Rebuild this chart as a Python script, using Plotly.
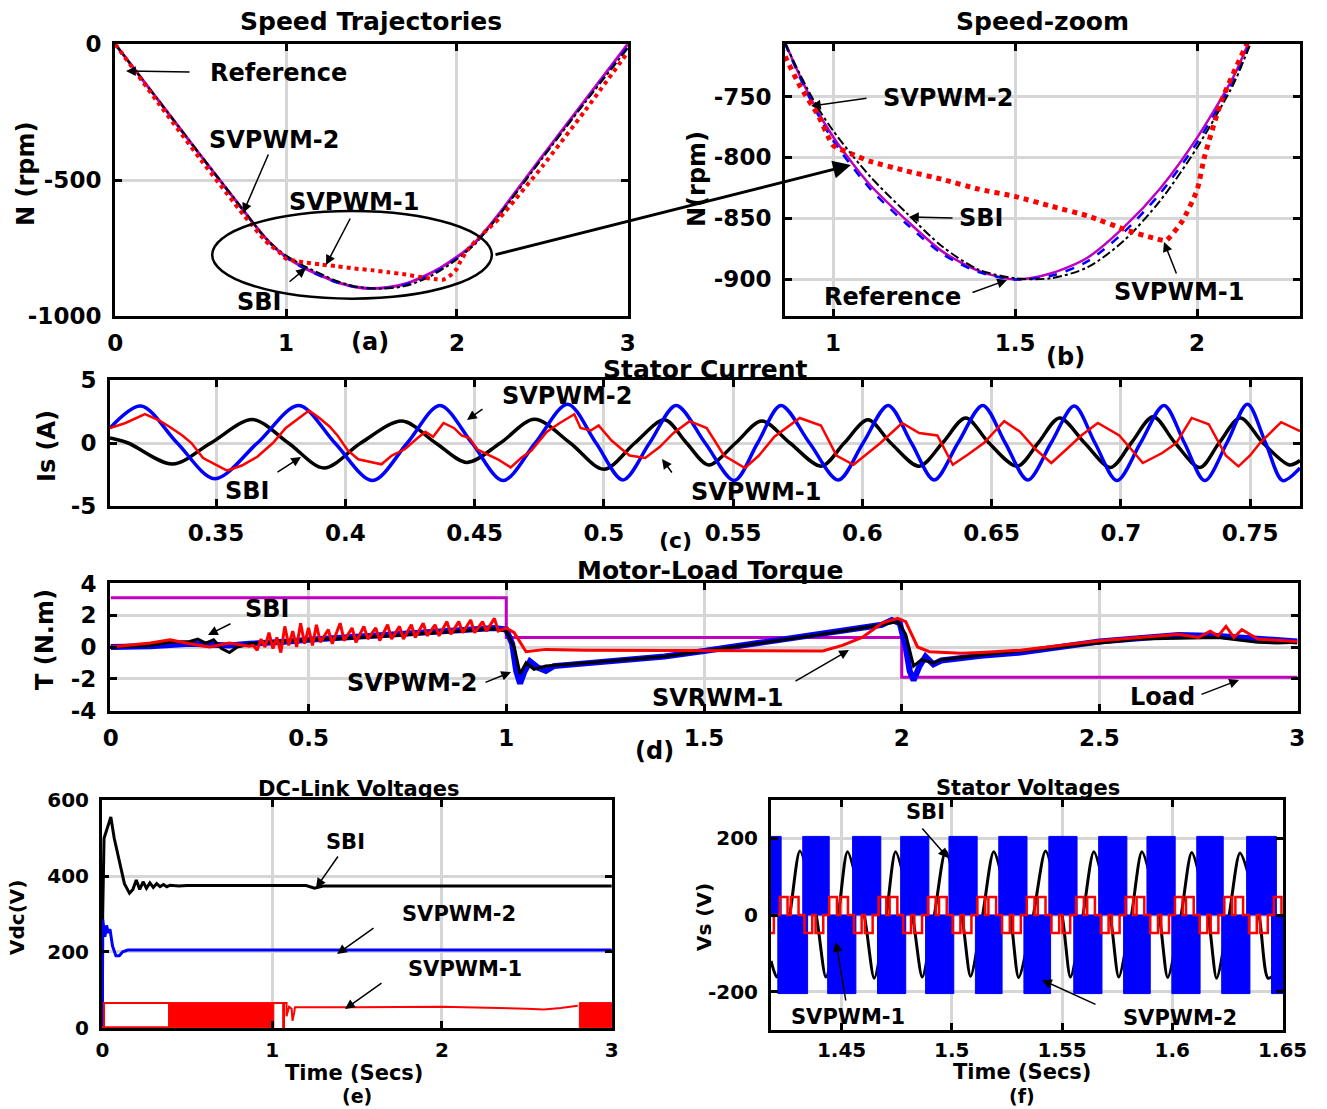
import plotly.graph_objects as go

W, H = 1327, 1109
FONT = "DejaVu Sans"
MAG = "#C000C0"

# ---------------- (a)/(b) speed data ----------------
ref_t = [0, 0.25, 0.5, 0.75, 0.87, 0.95, 1.0, 1.1, 1.2, 1.3, 1.4, 1.5, 1.6, 1.7, 1.8, 1.9, 2.0, 2.1, 2.14, 2.25, 2.5, 2.75, 3.0]
ref_n = [0, -205, -410, -612, -707, -758, -783, -822, -851, -877, -893, -900, -895, -882, -857, -825, -784, -734, -707, -622, -413, -207, 0]
sv2_t = [0, 0.25, 0.5, 0.75, 0.87, 0.95, 1.0, 1.1, 1.2, 1.3, 1.4, 1.5, 1.6, 1.7, 1.8, 1.9, 2.0, 2.1, 2.14, 2.25, 2.5, 2.75, 3.0]
sv2_n = [0, -206, -412, -614, -708, -760, -786, -825, -854, -879, -894, -900, -897, -885, -861, -829, -788, -737, -711, -626, -418, -212, -8]
sbi_t = [0, 0.25, 0.5, 0.75, 0.87, 0.95, 1.0, 1.1, 1.2, 1.3, 1.4, 1.5, 1.6, 1.7, 1.8, 1.9, 2.0, 2.1, 2.14, 2.25, 2.5, 2.75, 3.0]
sbi_n = [0, -204, -409, -611, -707, -755, -778, -815, -845, -873, -892, -899, -899, -890, -868, -835, -792, -740, -712, -628, -420, -215, -15]
sv1_t = [0, 0.25, 0.5, 0.75, 0.87, 0.91, 0.96, 1.0, 1.05, 1.1, 1.2, 1.3, 1.4, 1.5, 1.6, 1.7, 1.81, 1.88, 1.915, 1.96, 2.0, 2.021, 2.068, 2.137, 2.25, 2.5, 2.75, 3.0]
sv1_n = [0, -215, -425, -628, -718, -742, -766, -790, -797, -803, -811, -818, -826, -832, -840, -848, -860, -866, -868, -852, -827, -799, -753, -707, -640, -450, -245, -30]

# ---------------- (c) stator current ----------------
is_sv2_t = [0.309, 0.321, 0.335, 0.3495, 0.366, 0.382, 0.396, 0.4105, 0.424, 0.4366, 0.449, 0.461, 0.4735, 0.486, 0.497, 0.5074,
            0.5177, 0.528, 0.5392, 0.5505, 0.5595, 0.5685, 0.5796, 0.5907, 0.6003, 0.610, 0.619, 0.6278, 0.637, 0.6466, 0.6553,
            0.664, 0.673, 0.682, 0.690, 0.6985, 0.7076, 0.7167, 0.7246, 0.7325, 0.741, 0.749, 0.756, 0.7626, 0.7693]
is_sv2_v = [1.2, 2.95, 0, -2.85, 0, 3.0, 0, -3.0, 0, 3.0, 0, -3.0, 0, 3.1, 0, -2.95,
            0, 3.0, 0, -3.0, 0, 3.0, 0, -2.95, 0, 3.0, 0, -2.95, 0, 3.0, 0,
            -2.95, 0, 2.95, 0, -3.0, 0, 3.0, 0, -3.0, 0, 3.1, 0, -3.0, -2.0]
is_sbi_t = [0.309, 0.316, 0.3332, 0.348, 0.3641, 0.378, 0.3918, 0.406, 0.422, 0.435, 0.4471, 0.46, 0.4732, 0.487, 0.5, 0.512,
            0.5235, 0.532, 0.5406, 0.551, 0.5611, 0.572, 0.5842, 0.593, 0.6022, 0.611, 0.622, 0.631, 0.640, 0.649, 0.6599,
            0.668, 0.6763, 0.686, 0.696, 0.704, 0.7125, 0.721, 0.7306, 0.738, 0.7462, 0.755, 0.7652, 0.7693]
is_sbi_v = [0.4, 0, -1.68, 0, 1.87, 0, -2.0, 0, 1.75, 0, -1.55, 0, 1.9, 0, -2.1, 0,
            1.85, 0, -1.75, 0, 1.75, 0, -1.85, 0, 1.85, 0, -1.85, 0, 2.0, 0, -1.85,
            0, 2.0, 0, -1.95, 0, 2.1, 0, -1.95, 0, 2.0, 0, -1.75, -1.4]
is_sv1_t = [0.309, 0.315, 0.3225, 0.328, 0.332, 0.337, 0.3405, 0.345, 0.3543, 0.36, 0.366, 0.372, 0.377, 0.381, 0.386, 0.39,
            0.394, 0.397, 0.401, 0.405, 0.409, 0.414, 0.418, 0.423, 0.428, 0.431, 0.434, 0.438, 0.442, 0.445, 0.448, 0.451,
            0.455, 0.459, 0.464, 0.468, 0.472, 0.478, 0.483, 0.4886, 0.491, 0.495, 0.498, 0.503, 0.507, 0.51, 0.516, 0.5217,
            0.527, 0.5332, 0.5398, 0.5465, 0.5546, 0.56, 0.566, 0.5758, 0.584, 0.59, 0.5966, 0.607, 0.6154, 0.622, 0.629,
            0.635, 0.641, 0.647, 0.6549, 0.661, 0.667, 0.6731, 0.679, 0.6847, 0.6911, 0.6994, 0.704, 0.7085, 0.716, 0.7215,
            0.7274, 0.734, 0.7406, 0.7455, 0.75, 0.7538, 0.762, 0.7693]
is_sv1_v = [1.2, 1.6, 2.3, 1.8, 1.3, 0.6, 0.0, -1.2, -2.2, -1.8, -1.1, 0.0, 1.2, 1.8, 2.6, 2.0,
            1.3, 0.6, -0.6, -1.3, -1.5, -1.7, -1.0, -0.5, 0.4, 0.9, 0.5, 1.6, 1.2, 0.6, 0.4, -0.5,
            -0.9, -1.3, -1.95, -1.2, -0.6, 0.9, 1.6, 2.3, 1.2, 1.0, 1.4, 0.2, -0.5, -1.0, -1.2, -0.3,
            0.8, 1.74, 1.2, -1.0, -2.0, -1.0, 0.5, 2.0, 1.4, -1.0, -1.74, 0.0, 1.6, 0.8, 0.6,
            -1.74, -0.9, 0.0, 1.74, 0.9, -0.5, -1.6, -0.5, 0.6, 1.6, 0.6, -0.5, -1.6, -0.8, 0.0,
            2.0, 1.5, -1.0, -1.87, -1.0, 0.0, 1.66, 0.94]

# ---------------- (d) torque ----------------
load_t = [0, 1, 1, 2, 2, 3]
load_v = [3.1, 3.1, 0.6, 0.6, -1.9, -1.9]
tq_sv2_t = [0, 0.1, 0.2, 0.25, 0.3, 0.35, 0.4, 0.45, 0.5, 0.6, 0.7, 0.8, 0.9, 0.97, 1.0, 1.015, 1.025, 1.035, 1.045, 1.06,
            1.08, 1.1, 1.12, 1.2, 1.3, 1.4, 1.5, 1.6, 1.7, 1.8, 1.9, 1.95, 1.975, 1.995, 2.01, 2.02, 2.03, 2.045, 2.06,
            2.08, 2.1, 2.2, 2.3, 2.4, 2.5, 2.6, 2.7, 2.8, 2.9, 3.0]
tq_sv2_v = [0, 0.05, 0.2, 0.15, 0.1, 0.2, 0.25, 0.35, 0.45, 0.6, 0.75, 0.9, 1.05, 1.2, 1.1, 0.2, -1.5, -2.3, -1.6, -0.9,
            -1.3, -1.5, -1.2, -1.05, -0.85, -0.6, -0.25, 0.1, 0.45, 0.8, 1.15, 1.4, 1.7, 1.5, 0.0, -1.5, -2.1, -1.2, -0.6,
            -1.1, -0.85, -0.55, -0.35, 0.0, 0.35, 0.55, 0.75, 0.7, 0.5, 0.35]
tq_sbi_t = [0, 0.1, 0.15, 0.2, 0.22, 0.24, 0.26, 0.28, 0.3, 0.32, 0.35, 0.4, 0.5, 0.6, 0.7, 0.8, 0.9, 0.97, 1.0, 1.02, 1.035,
            1.05, 1.07, 1.1, 1.2, 1.4, 1.6, 1.8, 1.95, 1.99, 2.01, 2.03, 2.05, 2.08, 2.1, 2.2, 2.4, 2.6, 2.8, 2.9, 2.95, 3.0]
tq_sbi_v = [0, 0.1, 0.3, 0.35, 0.5, 0.25, 0.45, -0.1, -0.35, 0.0, 0.2, 0.3, 0.45, 0.55, 0.7, 0.85, 1.0, 1.15, 1.0, 0.0, -1.7,
            -1.0, -1.4, -1.2, -1.0, -0.6, 0.1, 0.8, 1.4, 1.6, 0.8, -1.2, -0.8, -1.0, -0.8, -0.5, 0.0, 0.5, 0.6, 0.3, 0.25, 0.3]
tq_sv1_t = [0, 0.1, 0.15, 0.2, 0.25, 0.3, 0.35, 0.36, 0.37, 0.38, 0.39, 0.40, 0.41, 0.42, 0.43, 0.44, 0.45, 0.46, 0.47, 0.48,
            0.49, 0.50, 0.51, 0.52, 0.53, 0.55, 0.56, 0.58, 0.59, 0.61, 0.62, 0.64, 0.65, 0.67, 0.68, 0.70, 0.71, 0.73, 0.74,
            0.76, 0.77, 0.79, 0.80, 0.82, 0.83, 0.85, 0.86, 0.88, 0.89, 0.91, 0.92, 0.94, 0.95, 0.97, 0.98, 1.0, 1.02, 1.05,
            1.1, 1.2, 1.4, 1.6, 1.8, 1.85, 1.9, 1.95, 1.99, 2.01, 2.04, 2.07, 2.15, 2.2, 2.3, 2.4, 2.5, 2.6, 2.7, 2.75, 2.78,
            2.8, 2.82, 2.84, 2.86, 2.9, 3.0]
tq_sv1_v = [0, 0.25, 0.45, 0.2, 0.0, 0.25, 0.05, 0.1, -0.2, 0.5, 0.0, 0.9, -0.1, 0.6, -0.35, 1.3, 0.1, 1.0, 0.0, 1.5,
            0.2, 1.2, 0.1, 1.4, 0.3, 1.1, 0.2, 1.5, 0.4, 1.2, 0.3, 1.3, 0.5, 1.2, 0.4, 1.4, 0.5, 1.3, 0.5,
            1.4, 0.6, 1.5, 0.7, 1.4, 0.7, 1.6, 0.8, 1.6, 0.9, 1.7, 0.9, 1.6, 1.0, 1.8, 1.0, 1.2, 0.9, -0.3,
            -0.15, -0.2, -0.22, -0.22, -0.25, 0.1, 0.6, 1.5, 1.8, 1.6, 0.0, -0.3, -0.4, -0.35, -0.2, 0.1, 0.4, 0.6, 0.8, 0.6, 1.0,
            0.7, 1.3, 0.6, 1.1, 0.5, 0.35]

# ---------------- (e) DC-link ----------------
dc_sbi_t = [0, 0.002, 0.01, 0.03, 0.05, 0.07, 0.1, 0.13, 0.16, 0.18, 0.2, 0.22, 0.24, 0.26, 0.28, 0.3, 0.32, 0.34, 0.36, 0.38, 0.4, 0.45, 0.5, 1.2, 1.25, 1.3, 3.0]
dc_sbi_v = [0, 300, 500, 530, 556, 500, 440, 380, 355, 365, 390, 365, 385, 368, 382, 370, 380, 372, 378, 372, 376, 374, 375, 375, 368, 374, 374]
dc_sv2_t = [0, 0.002, 0.015, 0.025, 0.035, 0.045, 0.06, 0.08, 0.1, 0.12, 0.15, 3.0]
dc_sv2_v = [0, 285, 240, 270, 250, 260, 215, 190, 190, 200, 205, 205]
dc_sv1_t = [0, 0.01, 0.01, 0.40, None, 0.0, 0.40, None, 1.01, 1.065, 1.065, 1.07, 1.07, 1.085, 1.085, 1.1, 1.115, 1.12, 1.13, 1.135, 1.5, 2.0, 2.5, 2.6, 2.7, 2.8]
dc_sv1_v = [0, 0, 65, 65, None, 1, 1, None, 65, 65, 0, 0, 65, 65, 30, 55, 50, 18, 40, 54, 54, 55, 50, 48, 52, 58]
dc_sv1_band_start = [0.39, 2.81]
dc_sv1_band_end = [1.01, 3.0]
dc_sv1_band_top = 66

# ---------------- (f) stator voltages ----------------
vs_sbi_t = [1.418, 1.4206, 1.4265, 1.4311, 1.4385, 1.4429, 1.4485, 1.4527, 1.4603, 1.4648, 1.4703, 1.4745, 1.4821, 1.4866,
            1.4921, 1.4972, 1.5045, 1.5085, 1.5140, 1.5190, 1.5265, 1.5303, 1.5370, 1.5425, 1.5500, 1.5538, 1.5595, 1.5644,
            1.5718, 1.5757, 1.5815, 1.5862, 1.5940, 1.5979, 1.6040, 1.6088, 1.6162, 1.6201, 1.6258, 1.6307, 1.6393, 1.6435, 1.6502]
vs_sbi_v = [-120, -162, 0, 167, 0, -162, 0, 165, 0, -165, 0, 165, 0, -162,
            0, 167, 0, -160, 0, 165, 0, -163, 0, 167, 0, -162, 0, 165,
            0, -162, 0, 165, 0, -163, 0, 163, 0, -165, 0, 162, 0, -165, -130]
vs_sv2_pos_start = [1.4165, 1.4324, 1.4550, 1.4768, 1.4987, 1.5213, 1.5440, 1.5666, 1.5885, 1.6111, 1.6337]
vs_sv2_pos_end = [1.4226, 1.4444, 1.4678, 1.4896, 1.5115, 1.5341, 1.5568, 1.5794, 1.6013, 1.6231, 1.6472]
vs_sv2_neg_start = [1.4211, 1.4437, 1.4663, 1.4881, 1.5107, 1.5327, 1.5553, 1.5779, 1.5998, 1.6224, 1.6450]
vs_sv2_neg_end = [1.4346, 1.4565, 1.4791, 1.5009, 1.5228, 1.5448, 1.5681, 1.5900, 1.6126, 1.6352, 1.6502]
vs_sv2_level = 205
vs_sv1_cycle_start = [1.3996, 1.4220, 1.4444, 1.4668, 1.4892, 1.5116, 1.5340, 1.5564, 1.5788, 1.6012, 1.6236, 1.6460]
vs_sv1_phase = [0.0, 0.0035, 0.0050, 0.0085, 0.0112, 0.0147, 0.0162, 0.0197]
vs_sv1_level = [47, 0, 47, 0, -47, 0, -47, 0]

# ---------------- helpers ----------------
def fx(p):
    return p / W

def fy(p):
    return 1 - p / H

fig = go.Figure()

def add(n, **kw):
    ax = "" if n == 1 else str(n)
    fig.add_trace(go.Scatter(xaxis="x" + ax, yaxis="y" + ax, mode="lines", showlegend=False,
                             hoverinfo="skip", **kw))

# (a)
add(1, x=ref_t, y=ref_n, line=dict(color=MAG, width=3, shape="spline", smoothing=0.8))
add(1, x=sv2_t, y=sv2_n, line=dict(color="blue", width=2, dash="dash", shape="spline", smoothing=0.8))
add(1, x=sbi_t, y=sbi_n, line=dict(color="black", width=2, dash="dashdot", shape="spline", smoothing=0.8))
add(1, x=sv1_t, y=sv1_n, line=dict(color="red", width=4, dash="dot", shape="spline", smoothing=0.5))
# (b)
add(2, x=ref_t, y=ref_n, line=dict(color=MAG, width=2.5, shape="spline", smoothing=0.8))
add(2, x=sv2_t, y=sv2_n, line=dict(color="blue", width=2.5, dash="dash", shape="spline", smoothing=0.8))
add(2, x=sbi_t, y=sbi_n, line=dict(color="black", width=2, dash="dashdot", shape="spline", smoothing=0.8))
add(2, x=sv1_t, y=sv1_n, line=dict(color="red", width=5, dash="dot", shape="spline", smoothing=0.5))
# (c)
add(3, x=is_sbi_t, y=is_sbi_v, line=dict(color="black", width=3.5, shape="spline", smoothing=0.9))
add(3, x=is_sv2_t, y=is_sv2_v, line=dict(color="blue", width=3.5, shape="spline", smoothing=0.9))
add(3, x=is_sv1_t, y=is_sv1_v, line=dict(color="red", width=2.5))
# (d)
add(4, x=load_t, y=load_v, line=dict(color=MAG, width=3))
add(4, x=tq_sv2_t, y=tq_sv2_v, line=dict(color="blue", width=6))
add(4, x=tq_sbi_t, y=tq_sbi_v, line=dict(color="black", width=3))
add(4, x=tq_sv1_t, y=tq_sv1_v, line=dict(color="red", width=3))
# (e)
add(5, x=dc_sbi_t, y=dc_sbi_v, line=dict(color="black", width=3))
add(5, x=dc_sv2_t, y=dc_sv2_v, line=dict(color="blue", width=3))
bx, by = [], []
for s, e in zip(dc_sv1_band_start, dc_sv1_band_end):
    bx += [s, e, e, s, s, None]
    by += [0, 0, dc_sv1_band_top, dc_sv1_band_top, 0, None]
add(5, x=bx, y=by, fill="toself", fillcolor="red", line=dict(color="red", width=1))
add(5, x=dc_sv1_t, y=dc_sv1_v, line=dict(color="red", width=2))
# (f)
add(6, x=vs_sbi_t, y=vs_sbi_v, line=dict(color="black", width=3, shape="spline", smoothing=0.7))
px_, py_ = [], []
for s, e in zip(vs_sv2_pos_start, vs_sv2_pos_end):
    px_ += [s, e, e, s, s, None]
    py_ += [0, 0, vs_sv2_level, vs_sv2_level, 0, None]
for s, e in zip(vs_sv2_neg_start, vs_sv2_neg_end):
    px_ += [s, e, e, s, s, None]
    py_ += [0, 0, -vs_sv2_level, -vs_sv2_level, 0, None]
add(6, x=px_, y=py_, fill="toself", fillcolor="blue", line=dict(color="blue", width=1))
rx, ry = [], []
for c in vs_sv1_cycle_start:
    for ph, lv in zip(vs_sv1_phase, vs_sv1_level):
        rx.append(c + ph)
        ry.append(lv)
add(6, x=rx, y=ry, line=dict(color="red", width=2.5, shape="hv"))

# ---------------- axes ----------------
def axis(dom, rng, vals, texts, fs, standoff=6):
    return dict(domain=dom, range=rng, tickvals=vals, ticktext=texts, showgrid=True, gridcolor="#d6d6d6",
                gridwidth=2.5, zeroline=False, showline=True, linecolor="black", linewidth=3, mirror="ticks",
                ticks="inside", ticklen=7, tickwidth=3, tickcolor="black", ticklabelstandoff=standoff,
                automargin=False,
                tickfont=dict(family=FONT, size=fs, color="black", weight="bold"), fixedrange=True)

def xd(a, b):
    return [fx(a), fx(b)]

def yd(top, bot):
    return [fy(bot), fy(top)]

TK = 23
TK2 = 20
lay = {}
lay["xaxis"] = axis(xd(115, 628), [-0.002, 3.002], [0, 1, 2, 3], ["0", "1", "2", "3"], TK, 4)
lay["yaxis"] = axis(yd(44, 316), [-1001, 1], [-1000, -500, 0], ["-1000", "-500", "0"], TK)
lay["xaxis2"] = axis(xd(785, 1300), [0.868, 2.283], [1, 1.5, 2], ["1", "1.5", "2"], TK, 4)
lay["yaxis2"] = axis(yd(44, 316), [-930, -707], [-900, -850, -800, -750], ["-900", "-850", "-800", "-750"], TK)
cx = [0.35, 0.4, 0.45, 0.5, 0.55, 0.6, 0.65, 0.7, 0.75]
lay["xaxis3"] = axis(xd(110, 1300), [0.309, 0.7693], cx, ["0.35", "0.4", "0.45", "0.5", "0.55", "0.6", "0.65", "0.7", "0.75"], TK, 4)
lay["yaxis3"] = axis(yd(380, 506), [-5.03, 5.03], [-5, 0, 5], ["-5", "0", "5"], TK)
dx = [0, 0.5, 1, 1.5, 2, 2.5, 3]
lay["xaxis4"] = axis(xd(110, 1298), [-0.002, 3.002], dx, ["0", "0.5", "1", "1.5", "2", "2.5", "3"], TK, 4)
lay["yaxis4"] = axis(yd(583, 711), [-4.03, 4.03], [-4, -2, 0, 2, 4], ["-4", "-2", "0", "2", "4"], TK)
lay["xaxis5"] = axis(xd(102, 612), [-0.002, 3.002], [0, 1, 2, 3], ["0", "1", "2", "3"], TK2, 2)
lay["yaxis5"] = axis(yd(800, 1028), [-1, 601], [0, 200, 400, 600], ["0", "200", "400", "600"], TK2)
fxv = [1.45, 1.5, 1.55, 1.6, 1.65]
lay["xaxis6"] = axis(xd(771, 1283), [1.418, 1.6502], fxv, ["1.45", "1.5", "1.55", "1.6", "1.65"], TK2, 0)
lay["yaxis6"] = axis(yd(800, 1030), [-300, 300], [-200, 0, 200], ["-200", "0", "200"], TK2)
for i in range(1, 7):
    s = "" if i == 1 else str(i)
    lay["xaxis" + s]["anchor"] = "y" + s
    lay["yaxis" + s]["anchor"] = "x" + s

# ---------------- annotations ----------------
ann = []

def text(t, x, y, size=22, angle=0):
    ann.append(dict(text=t, x=fx(x), y=fy(y), xref="paper", yref="paper", showarrow=False,
                    xanchor="center", yanchor="middle", textangle=angle, borderpad=0,
                    font=dict(family=FONT, size=size, color="black", weight="bold")))

def arrow(tail, head, width=1.5, size=1.3):
    ann.append(dict(text="", x=fx(head[0]), y=fy(head[1]), xref="paper", yref="paper", showarrow=True,
                    ax=tail[0] - head[0], ay=tail[1] - head[1], axref="pixel", ayref="pixel",
                    arrowhead=2, arrowsize=size, arrowwidth=width, arrowcolor="black",
                    standoff=0, startstandoff=0))

TT = 25
TL = 24
TS = 21
# titles
text("Speed Trajectories", 371, 22, TT)
text("Speed-zoom", 1042, 22, TT)
text("Stator Current", 705, 369, TT)
text("Motor-Load Torque", 710, 570, TT)
text("DC-Link Voltages", 359, 789, 21)
text("Stator Voltages", 1028, 788, 21)
# subplot letters
text("(a)", 370, 342, TL)
text("(b)", 1065, 357, TL)
text("(c)", 676, 541, 22)
text("(d)", 654, 751, TL)
text("(e)", 357, 1096, 19)
text("(f)", 1022, 1096, 19)
# axis titles
text("Time (Secs)", 354, 1073, 21)
text("Time (Secs)", 1022, 1072, 21)
text("N (rpm)", 26, 174, 24, -90)
text("N(rpm)", 697, 179, 24, -90)
text("Is (A)", 47, 446, 24, -90)
text("T (N.m)", 45, 640, 24, -90)
text("Vdc(V)", 17, 918, 20, -90)
text("Vs (V)", 704, 917, 20, -90)
# curve labels
text("Reference", 278, 73, TL); arrow((191, 72), (126, 71))
text("SVPWM-2", 274, 140, TL); arrow((269, 153), (243, 213))
text("SVPWM-1", 354, 202, TL); arrow((351, 217), (326, 265))
text("SBI", 259, 302, TL); arrow((288, 283), (306, 268))
arrow((494, 255), (851, 165), width=3, size=1.2)
text("SVPWM-2", 948, 98, TL); arrow((868, 98), (811, 106))
text("SBI", 981, 218, TL); arrow((954, 218), (909, 217))
text("Reference", 892, 297, TL); arrow((971, 293), (1007, 280))
text("SVPWM-1", 1179, 292, TL); arrow((1177, 275), (1164, 242))
text("SVPWM-2", 567, 396, TL); arrow((484, 408), (467, 420))
text("SBI", 247, 491, TL); arrow((276, 473), (301, 457))
text("SVPWM-1", 756, 492, TL); arrow((673, 474), (662, 459))
text("SBI", 267, 609, TL); arrow((232, 623), (208, 635))
text("SVPWM-2", 412, 683, TL); arrow((484, 683), (511, 672))
text("SVRWM-1", 717, 698, TL); arrow((794, 682), (849, 650))
text("Load", 1162, 697, TL); arrow((1200, 695), (1239, 680))
text("SBI", 345, 842, TS); arrow((339, 855), (316, 888))
text("SVPWM-2", 459, 914, TS); arrow((375, 927), (337, 954))
text("SVPWM-1", 465, 969, TS); arrow((383, 982), (345, 1009))
text("SBI", 926, 812, TS); arrow((921, 827), (948, 858))
text("SVPWM-1", 848, 1017, TS); arrow((846, 1002), (836, 942))
text("SVPWM-2", 1180, 1018, TS); arrow((1097, 1005), (1042, 980))

shapes = [dict(type="circle", xref="x", yref="y", x0=0.567, x1=2.205, y0=-614, y1=-937,
               line=dict(color="black", width=2.5))]

fig.update_layout(width=W, height=H, autosize=False,
                  margin=dict(l=0, r=0, t=0, b=0, pad=0, autoexpand=False),
                  paper_bgcolor="white", plot_bgcolor="white", showlegend=False,
                  font=dict(family=FONT, color="black"), annotations=ann, shapes=shapes, **lay)

fig.write_html("out.html")
